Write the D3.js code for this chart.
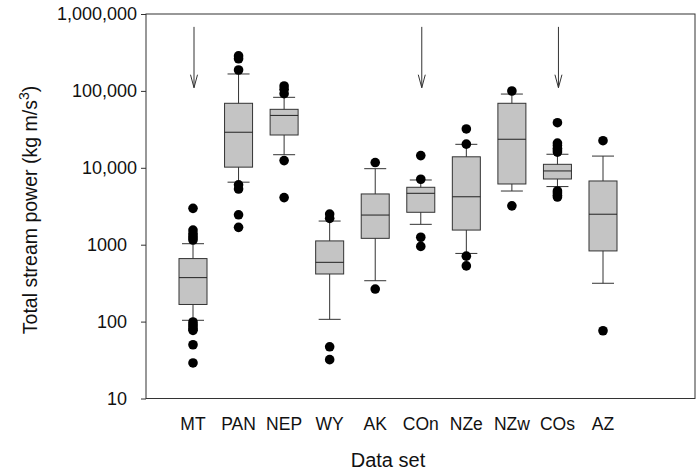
<!DOCTYPE html>
<html>
<head>
<meta charset="utf-8">
<script src="https://cdn.jsdelivr.net/npm/d3@7"></script>
<style>
body { margin: 0; background: #fff; }
svg text { font-family: "Liberation Sans", Arial, sans-serif; fill: #111; }
</style>
</head>
<body>
<div id="chart"></div>
<script>
// data
var categories = ["MT", "PAN", "NEP", "WY", "AK", "COn", "NZe", "NZw", "COs", "AZ"];
var whiskerLow  = [104, 6500, 14800, 107, 340, 1840, 770, 4990, 5700, 315];
var q1          = [167, 10200, 26700, 416, 1210, 2640, 1550, 6160, 7150, 830];
var median      = [373, 29000, 48000, 590, 2430, 4660, 4200, 23500, 9100, 2490];
var q3          = [660, 69000, 57600, 1120, 4570, 5580, 13900, 69000, 11100, 6740];
var whiskerHigh = [1030, 166000, 82500, 2030, 9740, 6940, 20200, 91000, 15000, 14200];
var outliers = [
    [2970, 1550, 1400, 1300, 1220, 1150, 99, 92, 86, 80, 77, 50, 29],
    [285000, 262000, 187000, 6000, 5300, 2450, 1680],
    [116000, 105000, 92000, 12400, 4100],
    [2500, 2200, 47, 32],
    [11700, 265],
    [14400, 7100, 1250, 950],
    [32000, 20300, 710, 530],
    [99700, 3200],
    [38600, 21000, 19500, 18000, 17000, 16000, 5000, 4700, 4400, 4170],
    [22500, 76]
];
var yTicks = [10, 100, 1000, 10000, 100000, 1000000];
var yTickLabels = ["10", "100", "1000", "10,000", "100,000", "1,000,000"];
var arrowCats = ["MT", "COn", "COs"];
var arrowSpan = [680000, 110000];

var width = 700, height = 474;
var frame = { left: 146, right: 695, top: 14, bottom: 398.5 };

var svg = d3.select("#chart").append("svg")
    .attr("width", width)
    .attr("height", height);

var x = d3.scalePoint()
    .domain(categories)
    .range([193, 603]);

var y = d3.scaleLog()
    .domain([10, 1000000])
    .range([frame.bottom, frame.top]);

var boxW = 28, capW = 22;

// plot frame
svg.append("rect")
    .attr("x", frame.left)
    .attr("y", frame.top)
    .attr("width", frame.right - frame.left)
    .attr("height", frame.bottom - frame.top)
    .attr("fill", "none")
    .attr("stroke", "#333")
    .attr("stroke-width", 1);

// y axis
var yAxis = d3.axisLeft(y)
    .tickValues(yTicks)
    .tickFormat(function (d, i) { return yTickLabels[i]; })
    .tickSize(5)
    .tickPadding(9);

var gy = svg.append("g")
    .attr("transform", "translate(" + frame.left + ",0)")
    .call(yAxis);
gy.select(".domain").remove();
gy.selectAll(".tick line").attr("stroke", "#333");
gy.selectAll(".tick text")
    .attr("font-size", "18px")
    .attr("font-family", "Liberation Sans, Arial, sans-serif")
    .attr("fill", "#111")
    // labels without a comma sit a little further left in the original
    .attr("x", function (d, i) { return yTickLabels[i].indexOf(",") < 0 ? -19 : -9; });

// category labels
svg.selectAll(".cat")
    .data(categories)
    .enter()
    .append("text")
    .attr("class", "cat")
    .attr("x", function (d) { return x(d); })
    .attr("y", 430)
    .attr("text-anchor", "middle")
    .attr("font-size", "17.5px")
    .text(function (d) { return d; });

// axis titles
svg.append("text")
    .attr("x", 388)
    .attr("y", 467)
    .attr("text-anchor", "middle")
    .attr("font-size", "20px")
    .text("Data set");

var yt = svg.append("text")
    .attr("transform", "translate(37,210) rotate(-90)")
    .attr("text-anchor", "middle")
    .attr("font-size", "19.5px");
yt.append("tspan").text("Total stream power (kg m/s");
yt.append("tspan").attr("font-size", "14px").attr("dy", -8).text("3");
yt.append("tspan").attr("dy", 8).text(")");

// box plots
var groups = svg.selectAll(".box")
    .data(categories)
    .enter()
    .append("g")
    .attr("class", "box");

// whiskers
groups.append("line")
    .attr("x1", function (d) { return x(d); })
    .attr("x2", function (d) { return x(d); })
    .attr("y1", function (d, i) { return y(whiskerHigh[i]); })
    .attr("y2", function (d, i) { return y(whiskerLow[i]); })
    .attr("stroke", "#333");

groups.append("line")
    .attr("x1", function (d) { return x(d) - capW / 2; })
    .attr("x2", function (d) { return x(d) + capW / 2; })
    .attr("y1", function (d, i) { return y(whiskerHigh[i]); })
    .attr("y2", function (d, i) { return y(whiskerHigh[i]); })
    .attr("stroke", "#333");

groups.append("line")
    .attr("x1", function (d) { return x(d) - capW / 2; })
    .attr("x2", function (d) { return x(d) + capW / 2; })
    .attr("y1", function (d, i) { return y(whiskerLow[i]); })
    .attr("y2", function (d, i) { return y(whiskerLow[i]); })
    .attr("stroke", "#333");

groups.append("rect")
    .attr("x", function (d) { return x(d) - boxW / 2; })
    .attr("width", boxW)
    .attr("y", function (d, i) { return y(q3[i]); })
    .attr("height", function (d, i) { return y(q1[i]) - y(q3[i]); })
    .attr("fill", "#c4c4c4")
    .attr("stroke", "#333");

groups.append("line")
    .attr("x1", function (d) { return x(d) - boxW / 2; })
    .attr("x2", function (d) { return x(d) + boxW / 2; })
    .attr("y1", function (d, i) { return y(median[i]); })
    .attr("y2", function (d, i) { return y(median[i]); })
    .attr("stroke", "#222");

// outliers
groups.each(function (d, i) {
    d3.select(this).selectAll("circle")
        .data(outliers[i])
        .enter()
        .append("circle")
        .attr("cx", x(d))
        .attr("cy", function (v) { return y(v); })
        .attr("r", 4.8)
        .attr("fill", "#000");
});

// arrows
var arrows = svg.selectAll(".arrow")
    .data(arrowCats)
    .enter()
    .append("g")
    .attr("class", "arrow");

arrows.append("line")
    .attr("x1", function (d) { return x(d) + 1; })
    .attr("x2", function (d) { return x(d) + 1; })
    .attr("y1", y(arrowSpan[0]))
    .attr("y2", y(arrowSpan[1]))
    .attr("stroke", "#333");

arrows.append("path")
    .attr("d", function (d) {
        var cx = x(d) + 1, tip = y(arrowSpan[1]);
        return "M" + (cx - 3.5) + "," + (tip - 13) + "L" + cx + "," + tip + "L" + (cx + 3.5) + "," + (tip - 13);
    })
    .attr("fill", "none")
    .attr("stroke", "#333");
</script>
</body>
</html>
